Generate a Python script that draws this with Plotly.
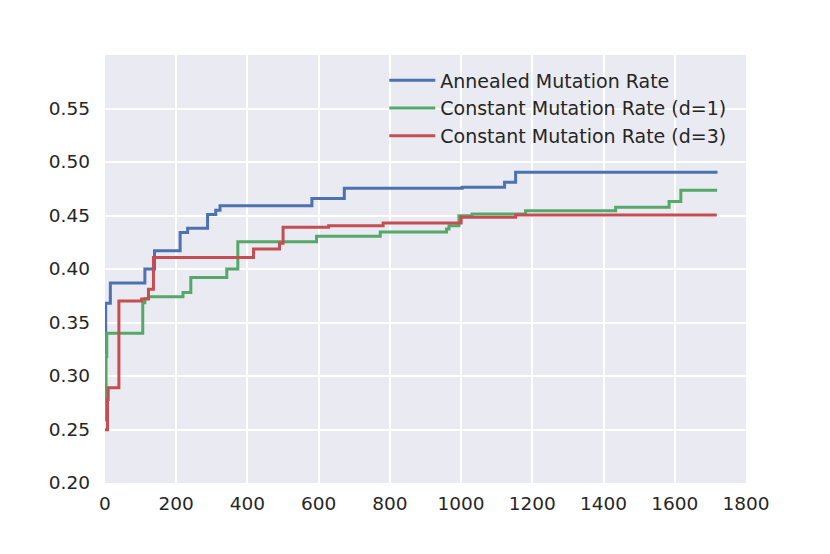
import plotly.graph_objects as go

# Annealed Mutation Rate
blue_x = [0, 2, 15, 112, 139, 211, 232, 288, 311, 323, 581, 672, 1003, 1122, 1153, 1720]
blue_y = [0.322, 0.368, 0.387, 0.400, 0.417, 0.434, 0.438, 0.451, 0.455, 0.459, 0.466,
          0.4755, 0.4765, 0.481, 0.4905, 0.4905]

# Constant Mutation Rate (d=1)
green_x = [0, 3, 5, 106, 112, 122, 219, 241, 342, 373, 594, 773, 959, 966, 994, 1031,
           1181, 1434, 1584, 1617, 1719]
green_y = [0.259, 0.318, 0.340, 0.3685, 0.3725, 0.374, 0.378, 0.392, 0.400, 0.4255,
           0.4305, 0.4345, 0.4375, 0.4405, 0.4497, 0.4515, 0.4545, 0.4577, 0.463,
           0.4735, 0.4735]

# Constant Mutation Rate (d=3)
red_x = [0, 7, 9, 39, 103, 122, 136, 417, 490, 500, 628, 781, 1000, 1153, 1718]
red_y = [0.2497, 0.278, 0.289, 0.370, 0.372, 0.381, 0.4108, 0.4186, 0.424, 0.439,
         0.4405, 0.443, 0.4483, 0.4505, 0.4505]

names = ["Annealed Mutation Rate", "Constant Mutation Rate (d=1)",
         "Constant Mutation Rate (d=3)"]
colors = ["#4C72B0", "#55A868", "#C44E52"]

x_ticks = [0, 200, 400, 600, 800, 1000, 1200, 1400, 1600, 1800]
y_ticks = [0.20, 0.25, 0.30, 0.35, 0.40, 0.45, 0.50, 0.55]

fig = go.Figure()
for xs, ys, name, c in zip([blue_x, green_x, red_x], [blue_y, green_y, red_y], names, colors):
    fig.add_trace(go.Scatter(x=xs, y=ys, mode="lines", name=name,
                             line=dict(color=c, width=3, shape="hv")))

font_family = "DejaVu Sans"
fig.update_layout(
    width=830, height=554,
    margin=dict(l=96.5, r=92, t=47, b=78.7),
    paper_bgcolor="white",
    plot_bgcolor="#EAEAF2",
    font=dict(family=font_family, color="#262626", size=18.5),
    showlegend=True,
    legend=dict(x=0.4357, y=0.985, xanchor="left", yanchor="top",
                bgcolor="rgba(0,0,0,0)", font=dict(size=19, color="#262626"),
                itemwidth=46),
    xaxis=dict(range=[0, 1800], tickvals=x_ticks, ticktext=[str(v) for v in x_ticks],
               showgrid=True, gridcolor="white", gridwidth=1.8, zeroline=False,
               showline=False, ticks="", ticklabelstandoff=7),
    yaxis=dict(range=[0.20, 0.60], tickvals=y_ticks,
               ticktext=["%.2f" % v for v in y_ticks],
               showgrid=True, gridcolor="white", gridwidth=1.8, zeroline=False,
               showline=False, ticks="", ticklabelstandoff=14),
)

fig.write_html("out.html")
